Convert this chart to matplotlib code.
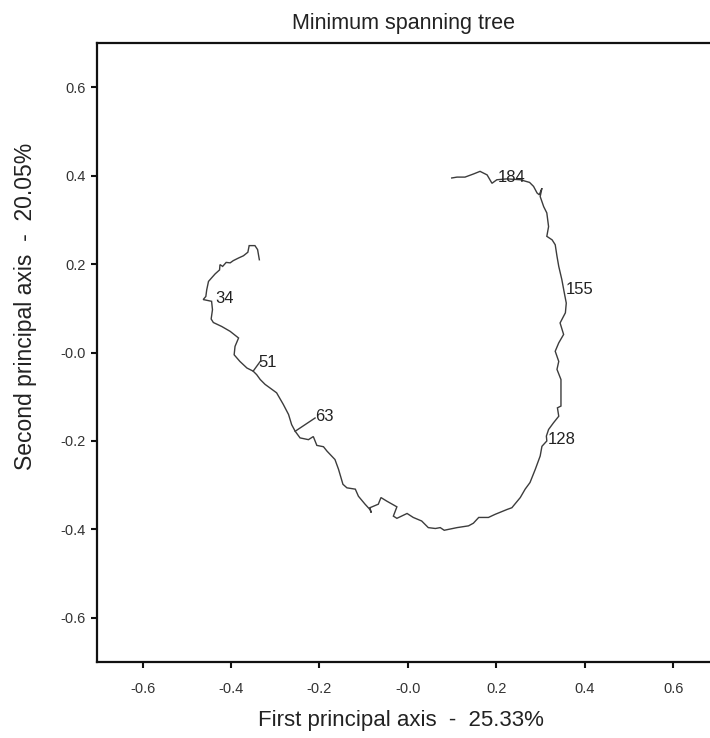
import matplotlib
matplotlib.use("Agg")
import matplotlib.pyplot as plt

plt.rcParams['font.family'] = ['Liberation Sans', 'DejaVu Sans']

# Main MST path (data coordinates)
path_x = [-0.336, -0.340, -0.346, -0.359, -0.362, -0.372, -0.383, -0.395, -0.402, -0.411,
          -0.419, -0.425, -0.426, -0.436, -0.444, -0.451, -0.455, -0.457, -0.463, -0.444,
          -0.442, -0.445, -0.440, -0.421, -0.402, -0.383, -0.391, -0.393, -0.380, -0.364,
          -0.350, -0.342, -0.334, -0.323, -0.312, -0.297, -0.282, -0.270, -0.263, -0.255,
          -0.244, -0.225, -0.214, -0.206, -0.191, -0.183, -0.165, -0.157, -0.147, -0.138,
          -0.119, -0.112, -0.097, -0.086, -0.083, -0.086, -0.067, -0.061, -0.048, -0.025,
          -0.033, -0.025, -0.002, 0.012, 0.031, 0.046, 0.062, 0.073, 0.082, 0.111,
          0.137, 0.148, 0.160, 0.182, 0.197, 0.224, 0.235, 0.254, 0.265, 0.276,
          0.288, 0.299, 0.303, 0.314, 0.313, 0.318, 0.329, 0.341, 0.338, 0.346,
          0.346, 0.337, 0.341, 0.333, 0.341, 0.352, 0.344, 0.356, 0.358, 0.353,
          0.348, 0.341, 0.337, 0.333, 0.326, 0.314, 0.318, 0.314, 0.307, 0.299,
          0.303, 0.297, 0.292, 0.284, 0.275, 0.254, 0.224, 0.201, 0.190, 0.179,
          0.163, 0.148, 0.129, 0.111, 0.099]
path_y = [0.210, 0.233, 0.242, 0.242, 0.227, 0.219, 0.214, 0.208, 0.203, 0.204,
          0.195, 0.199, 0.187, 0.178, 0.169, 0.161, 0.142, 0.127, 0.120, 0.116,
          0.097, 0.076, 0.068, 0.059, 0.048, 0.033, 0.014, -0.005, -0.020, -0.035,
          -0.042, -0.050, -0.061, -0.072, -0.080, -0.091, -0.117, -0.140, -0.163, -0.178,
          -0.193, -0.197, -0.190, -0.210, -0.213, -0.223, -0.242, -0.264, -0.298, -0.306,
          -0.309, -0.325, -0.343, -0.355, -0.362, -0.351, -0.343, -0.328, -0.336, -0.349,
          -0.370, -0.375, -0.364, -0.373, -0.381, -0.396, -0.398, -0.396, -0.402, -0.396,
          -0.392, -0.386, -0.373, -0.373, -0.366, -0.355, -0.351, -0.328, -0.309, -0.294,
          -0.264, -0.234, -0.212, -0.200, -0.189, -0.174, -0.159, -0.144, -0.125, -0.121,
          -0.061, -0.038, -0.020, 0.003, 0.022, 0.041, 0.067, 0.090, 0.112, 0.138,
          0.165, 0.195, 0.218, 0.244, 0.255, 0.263, 0.285, 0.316, 0.330, 0.353,
          0.372, 0.357, 0.361, 0.376, 0.385, 0.391, 0.393, 0.391, 0.383, 0.402,
          0.410, 0.404, 0.397, 0.397, 0.395]

# Side branches of the tree (start/end points)
branch_x = [[-0.350, -0.334], [-0.255, -0.210]]
branch_y = [[-0.042, -0.020], [-0.178, -0.148]]

# Node labels
node_labels = ["34", "51", "63", "128", "155", "184"]
node_x = [-0.436, -0.339, -0.210, 0.315, 0.356, 0.204]
node_y = [0.122, -0.023, -0.145, -0.197, 0.142, 0.395]

xticks = [-0.6, -0.4, -0.2, 0.0, 0.2, 0.4, 0.6]
yticks = [-0.6, -0.4, -0.2, 0.0, 0.2, 0.4, 0.6]
tick_labels = ["-0.6", "-0.4", "-0.2", "-0.0", "0.2", "0.4", "0.6"]

fig = plt.figure(figsize=(7.10, 7.38), dpi=100)
ax = fig.add_axes([0.137, 0.103, 0.863, 0.8385])

line_color = '#3c3c3c'
ax.plot(path_x, path_y, color=line_color, lw=1.0, solid_joinstyle='miter')
for bx, by in zip(branch_x, branch_y):
    ax.plot(bx, by, color=line_color, lw=1.0)
for t, x, y in zip(node_labels, node_x, node_y):
    ax.text(x, y, t, fontsize=12, ha='left', va='center', color='#222222')

ax.set_xlim(-0.7025, 0.683)
ax.set_ylim(-0.70, 0.70)

ax.set_xticks(xticks)
ax.set_xticklabels(tick_labels)
ax.set_yticks(yticks)
ax.set_yticklabels(tick_labels)

ax.spines['right'].set_visible(False)
for s in ['left', 'bottom', 'top']:
    ax.spines[s].set_linewidth(1.6)
    ax.spines[s].set_color('#111111')

ax.tick_params(axis='both', direction='out', length=4.5, width=1.5, color='#111111',
               labelsize=10.5, labelcolor='#333333')
ax.tick_params(axis='x', pad=10)
ax.tick_params(axis='y', pad=4)

ax.set_title("Minimum spanning tree", fontsize=15.5, color='#222222', pad=10)
ax.set_xlabel("First principal axis  -  25.33%", fontsize=16, color='#222222')
ax.set_ylabel("Second principal axis  -  20.05%", fontsize=16.5, color='#222222')
ax.xaxis.set_label_coords(0.5 - 0.005, -0.077)
ax.yaxis.set_label_coords(-0.098, 0.575)

fig.savefig("out.png", dpi=100)
